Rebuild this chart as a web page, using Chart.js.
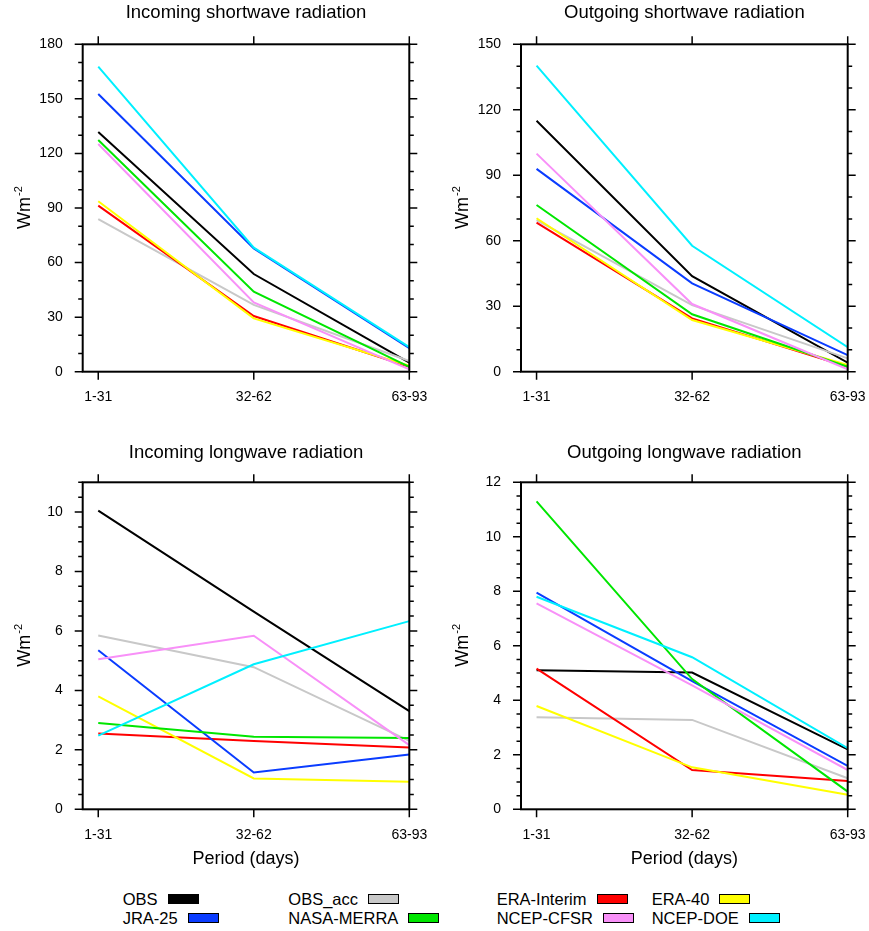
<!DOCTYPE html>
<html>
<head>
<meta charset="utf-8">
<script src="https://cdn.jsdelivr.net/npm/chart.js"></script>
<style>
  body { margin: 0; background: #fff; font-family: 'Liberation Sans', Arial, sans-serif; }
  #page { position: relative; width: 869px; height: 931px; }
  canvas { position: absolute; }
  .lg { position: absolute; display: flex; align-items: center; height: 20px; font-size: 16.5px; color: #000; white-space: nowrap; }
  .lg span.box { display: inline-block; width: 29px; height: 8px; border: 1px solid #000; margin-left: 10px; }
</style>
</head>
<body>
<div id="page">
  <canvas id="c1"></canvas>
  <canvas id="c2"></canvas>
  <canvas id="c3"></canvas>
  <canvas id="c4"></canvas>
</div>
<script>
const categories = ['1-31', '32-62', '63-93'];
const seriesNames = ['OBS', 'OBS_acc', 'ERA-Interim', 'ERA-40', 'JRA-25', 'NASA-MERRA', 'NCEP-CFSR', 'NCEP-DOE'];
const seriesColors = ['#000000', '#c8c8c8', '#ff0000', '#ffff00', '#0a3cff', '#00e600', '#f890f8', '#00f0ff'];

// values per series, same order as seriesNames
const swIn = [
  [131.8, 53.7, 5.0],
  [83.9, 36.7, 5.9],
  [91.3, 30.6, 2.7],
  [93.7, 29.3, 3.3],
  [152.7, 67.8, 13.0],
  [127.4, 44.0, 2.7],
  [125.2, 38.1, 1.3],
  [167.7, 68.2, 13.5]
];
const swOut = [
  [115.0, 43.8, 4.1],
  [69.5, 30.5, 6.1],
  [68.3, 24.4, 2.3],
  [70.3, 23.7, 3.1],
  [92.9, 40.5, 7.6],
  [76.4, 26.3, 2.3],
  [99.9, 31.0, 1.1],
  [140.2, 57.7, 11.2]
];
const lwIn = [
  [10.05, 6.65, 3.3],
  [5.85, 4.78, 2.3],
  [2.55, 2.3, 2.08],
  [3.8, 1.04, 0.93],
  [5.35, 1.24, 1.84],
  [2.9, 2.44, 2.4],
  [5.05, 5.84, 2.16],
  [2.48, 4.88, 6.33]
];
const lwOut = [
  [5.1, 5.02, 2.2],
  [3.38, 3.28, 1.14],
  [5.16, 1.44, 1.04],
  [3.79, 1.54, 0.53],
  [7.95, 4.7, 1.59],
  [11.3, 4.78, 0.65],
  [7.56, 4.55, 1.44],
  [7.8, 5.58, 2.24]
];

const FONT = "'Liberation Sans', Arial, sans-serif";

// frame, outward ticks (major + minor) and the Wm-2 label
const framePlugin = {
  id: 'frame',
  afterDatasetsDraw(chart, args, opts) {
    const { ctx, chartArea: a, scales: { x, y } } = chart;
    ctx.save();
    ctx.strokeStyle = '#000';
    ctx.lineWidth = 1.5;
    ctx.beginPath();
    const n = Math.round(y.max / opts.minor);
    for (let i = 0; i <= n; i++) {
      const v = i * opts.minor;
      const py = y.getPixelForValue(v);
      const r = v / opts.step;
      const len = Math.abs(r - Math.round(r)) < 1e-6 ? 8 : 4.5;
      ctx.moveTo(a.left - len, py); ctx.lineTo(a.left, py);
      ctx.moveTo(a.right, py); ctx.lineTo(a.right + len, py);
    }
    x.ticks.forEach(t => {
      const px = x.getPixelForValue(t.value);
      ctx.moveTo(px, a.top - 8); ctx.lineTo(px, a.top);
      ctx.moveTo(px, a.bottom); ctx.lineTo(px, a.bottom + 8);
    });
    ctx.stroke();
    ctx.lineWidth = 2;
    ctx.strokeRect(a.left, a.top, a.right - a.left, a.bottom - a.top);

    // y axis title with superscript
    ctx.translate(a.left - 53, (a.top + a.bottom) / 2);
    ctx.rotate(-Math.PI / 2);
    ctx.fillStyle = '#000';
    ctx.textBaseline = 'alphabetic';
    ctx.textAlign = 'left';
    ctx.font = '18px ' + FONT;
    const w1 = ctx.measureText('Wm').width;
    ctx.font = '11px ' + FONT;
    const w2 = ctx.measureText('-2').width;
    const x0 = -(w1 + w2) / 2;
    ctx.font = '18px ' + FONT;
    ctx.fillText('Wm', x0, 0);
    ctx.font = '11px ' + FONT;
    ctx.fillText('-2', x0 + w1 + 1, -8);
    ctx.restore();
  }
};

const panels = [
  { id: 'c1', left: 0, top: 0, w: 435, h: 430, plot: { l: 82.7, t: 44.3, r: 409.3, b: 371.7 }, titleY: 13,
    title: 'Incoming shortwave radiation', values: swIn, ymax: 180, step: 30, minor: 10, xTitle: false },
  { id: 'c2', left: 435, top: 0, w: 434, h: 430, plot: { l: 86, t: 44.3, r: 412.7, b: 371.7 }, titleY: 13,
    title: 'Outgoing shortwave radiation', values: swOut, ymax: 150, step: 30, minor: 10, xTitle: false },
  { id: 'c3', left: 0, top: 430, w: 435, h: 440, plot: { l: 82.7, t: 52.3, r: 409.3, b: 379.3 }, titleY: 23,
    title: 'Incoming longwave radiation', values: lwIn, ymax: 11, step: 2, minor: 0.5, xTitle: true },
  { id: 'c4', left: 435, top: 430, w: 434, h: 440, plot: { l: 86, t: 52.3, r: 412.7, b: 379.3 }, titleY: 23,
    title: 'Outgoing longwave radiation', values: lwOut, ymax: 12, step: 2, minor: 0.5, xTitle: true }
];

function createPanel(p) {
  const cv = document.getElementById(p.id);
  cv.width = p.w; cv.height = p.h;
  cv.style.left = p.left + 'px'; cv.style.top = p.top + 'px';
  cv.style.width = p.w + 'px'; cv.style.height = p.h + 'px';
  const titleSize = 18.5;
  const lh = titleSize * 1.2;
  return new Chart(cv.getContext('2d'), {
    type: 'line',
    data: {
      datasets: seriesNames.map((name, i) => ({
        label: name,
        data: p.values[i].map((v, k) => ({ x: k + 1, y: v })),
        borderColor: seriesColors[i],
        backgroundColor: seriesColors[i],
        borderWidth: 2,
        pointRadius: 0,
        fill: false,
        tension: 0,
        order: seriesNames.length - i
      }))
    },
    options: {
      animation: false,
      responsive: false,
      devicePixelRatio: 1,
      layout: { padding: { left: 0, top: 0, right: p.w - p.plot.r, bottom: 0 } },
      plugins: {
        legend: { display: false },
        tooltip: { enabled: false },
        title: {
          display: true,
          fullSize: false,
          text: p.title,
          color: '#000',
          font: { family: FONT, size: titleSize, weight: 'normal' },
          padding: { top: p.titleY - lh / 2, bottom: p.plot.t - p.titleY - lh / 2 }
        },
        frame: { step: p.step, minor: p.minor }
      },
      scales: {
        x: {
          type: 'linear',
          min: 0.9,
          max: 3,
          grid: { display: false, drawTicks: true, tickLength: 17 },
          border: { display: false },
          afterBuildTicks: s => { s.ticks = categories.map((c, i) => ({ value: i + 1 })); },
          afterFit: s => { s.height = p.h - p.plot.b; },
          ticks: {
            padding: 0,
            color: '#000',
            font: { family: FONT, size: 14 },
            maxRotation: 0,
            callback: v => categories[Math.round(v) - 1]
          },
          title: {
            display: p.xTitle,
            text: 'Period (days)',
            color: '#000',
            font: { family: FONT, size: 18 },
            padding: { top: 0, bottom: 0.2 }
          }
        },
        y: {
          min: 0,
          max: p.ymax,
          grid: { display: false, drawTicks: true, tickLength: 20 },
          border: { display: false },
          afterBuildTicks: s => {
            s.ticks = s.ticks.filter(t => Math.abs(t.value / p.step - Math.round(t.value / p.step)) < 1e-6);
          },
          afterFit: s => { s.width = p.plot.l; },
          ticks: {
            stepSize: p.step,
            padding: 0,
            color: '#000',
            font: { family: FONT, size: 14 }
          }
        }
      }
    },
    plugins: [framePlugin]
  });
}

panels.forEach(createPanel);

// legend: 4 columns x 2 rows, label then colour box
const legendCols = [122.7, 288.3, 496.7, 651.7];
const legendRows = [889, 908];
const page = document.getElementById('page');
seriesNames.forEach((name, i) => {
  const d = document.createElement('div');
  d.className = 'lg';
  d.style.left = legendCols[i % 4] + 'px';
  d.style.top = legendRows[Math.floor(i / 4)] + 'px';
  const t = document.createElement('span');
  t.textContent = name;
  const b = document.createElement('span');
  b.className = 'box';
  b.style.background = seriesColors[i];
  d.appendChild(t);
  d.appendChild(b);
  page.appendChild(d);
});
</script>
</body>
</html>
